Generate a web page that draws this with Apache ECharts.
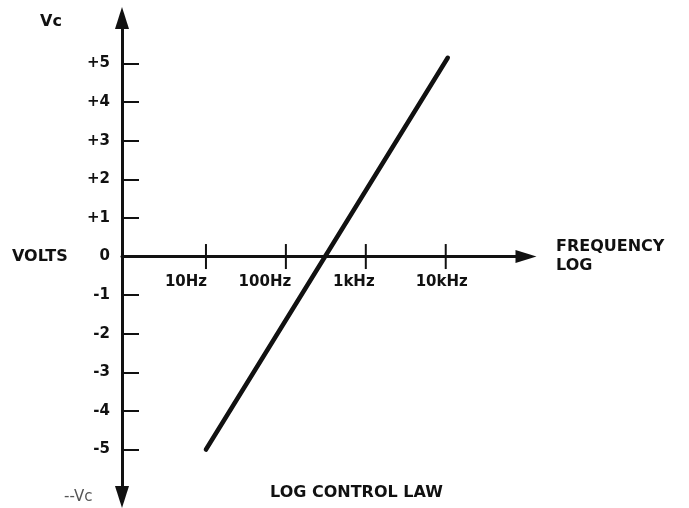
<!DOCTYPE html>
<html>
<head>
<meta charset="utf-8">
<script src="https://cdn.jsdelivr.net/npm/echarts@6/dist/echarts.min.js"></script>
<style>
  html, body { margin: 0; padding: 0; background: #fff; }
  #chart { width: 689px; height: 508px; }
</style>
</head>
<body>
<div id="chart"></div>
<script>
// Control voltage versus frequency for a logarithmic control law
const freqTicks = [10, 100, 1000, 10000];
const freqTickLabels = ['10Hz', '100Hz', '1kHz', '10kHz'];
const voltTicks = [-5, -4, -3, -2, -1, 0, 1, 2, 3, 4, 5];
const lawFreq = [10, 10600];
const lawVolts = [-5, 5.15];

const ink = '#111';
const face = 'DejaVu Sans';

// each frequency label sits a little left of its tick
const labelShift = [40, 42, 24, 8];
const rich = {};
labelShift.forEach((p, i) => {
  rich['f' + i] = { fontFamily: face, fontWeight: 'bold', fontSize: 15, color: ink, padding: [0, p, 0, 0] };
});

const chart = echarts.init(document.getElementById('chart'), null, { renderer: 'canvas' });

chart.setOption({
  backgroundColor: '#fff',
  animation: false,
  title: {
    text: 'LOG CONTROL LAW',
    left: 265,
    top: 480,
    textStyle: { fontFamily: face, fontWeight: 'bold', fontSize: 16, color: ink }
  },
  grid: { left: 122, right: 163, top: 18, bottom: 11, containLabel: false, outerBoundsMode: 'none' },
  xAxis: {
    type: 'log',
    logBase: 10,
    min: 0.89,
    max: 101000,
    name: 'FREQUENCY\nLOG',
    nameLocation: 'end',
    nameGap: 30,
    nameTextStyle: {
      fontFamily: face, fontWeight: 'bold', fontSize: 16, color: ink,
      align: 'left', verticalAlign: 'middle', lineHeight: 19
    },
    axisLine: {
      onZero: true,
      symbol: ['none', 'triangle'],
      symbolSize: [13, 21],
      lineStyle: { color: ink, width: 3 }
    },
    axisTick: { show: false },
    splitLine: { show: false },
    axisLabel: { show: false }
  },
  yAxis: {
    type: 'value',
    min: -6.23,
    max: 6.18,
    axisLine: {
      show: true,
      symbol: ['triangle', 'triangle'],
      symbolSize: [14, 22],
      lineStyle: { color: ink, width: 3 }
    },
    axisTick: {
      show: true,
      inside: true,
      length: 17,
      customValues: voltTicks,
      lineStyle: { color: ink, width: 2 }
    },
    splitLine: { show: false },
    axisLabel: {
      customValues: voltTicks,
      margin: 12,
      fontFamily: face,
      fontWeight: 'bold',
      fontSize: 15,
      color: ink,
      formatter: function (v) {
        return v > 0 ? '+' + v : (v < 0 ? '-' + Math.abs(v) : '0');
      }
    }
  },
  graphic: [
    { type: 'text', left: 40, top: 14, style: { text: 'Vc', font: 'bold 16px "DejaVu Sans"', fill: ink } },
    { type: 'text', left: 12, top: 249, style: { text: 'VOLTS', font: 'bold 16px "DejaVu Sans"', fill: ink } },
    { type: 'text', left: 64, top: 490, style: { text: '--Vc', font: '15px "DejaVu Sans"', fill: '#555' } }
  ],
  series: [
    {
      name: 'decade ticks',
      type: 'scatter',
      silent: true,
      symbol: 'rect',
      symbolSize: [2, 25],
      itemStyle: { color: ink, opacity: 1 },
      data: freqTicks.map(f => [f, 0]),
      label: {
        show: true,
        position: 'bottom',
        distance: 6,
        color: ink,
        opacity: 1,
        rich: rich,
        formatter: function (p) {
          return '{f' + p.dataIndex + '|' + freqTickLabels[p.dataIndex] + '}';
        }
      },
      z: 3
    },
    {
      name: 'log law',
      type: 'line',
      silent: true,
      showSymbol: false,
      lineStyle: { color: ink, width: 4.5, cap: 'round' },
      data: lawFreq.map((f, i) => [f, lawVolts[i]]),
      z: 4
    }
  ]
});
</script>
</body>
</html>
